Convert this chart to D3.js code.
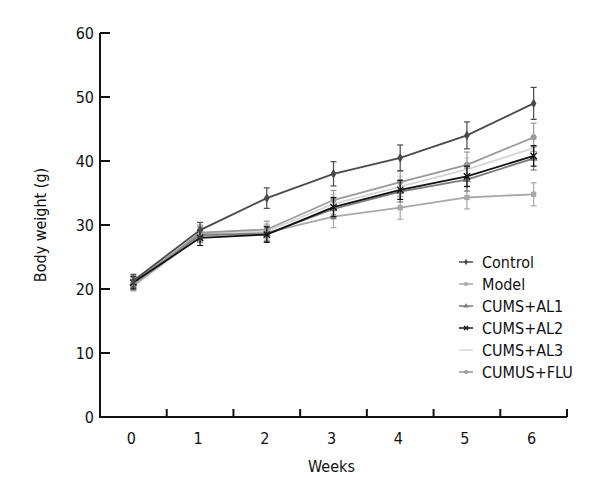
<!DOCTYPE html>
<html><head><meta charset="utf-8">
<script src="https://cdn.jsdelivr.net/npm/d3@7"></script>
<style>body{margin:0;background:#fff}svg{display:block}text{font-family:"DejaVu Sans Condensed","DejaVu Sans",sans-serif;font-stretch:condensed;fill:#111}</style>
</head><body><svg id="c" width="600" height="500"></svg>
<script>
const weeks = ["0","1","2","3","4","5","6"];
const seriesNames = ["Control","Model","CUMS+AL1","CUMS+AL2","CUMS+AL3","CUMUS+FLU"];
const control = [21.3, 29.2, 34.2, 38.0, 40.5, 44.0, 49.0];
const controlErr = [1.0, 1.2, 1.6, 1.9, 2.0, 2.1, 2.5];
const model = [20.5, 28.3, 28.8, 31.3, 32.7, 34.3, 34.8];
const modelErr = [0.8, 1.0, 1.2, 1.7, 1.8, 1.8, 1.8];
const al1 = [21.0, 28.5, 28.6, 32.5, 35.2, 37.1, 40.4];
const al1Err = [0.9, 1.2, 1.2, 1.5, 1.6, 1.8, 1.8];
const al2 = [21.0, 28.0, 28.5, 32.8, 35.5, 37.6, 40.8];
const al2Err = [1.0, 1.2, 1.2, 1.5, 1.5, 1.6, 1.6];
const al3 = [21.2, 28.6, 29.0, 33.3, 36.0, 38.7, 42.0];
const al3Err = [0.8, 1.0, 1.2, 1.5, 1.6, 1.8, 1.8];
const flu = [20.8, 28.8, 29.3, 33.9, 36.7, 39.4, 43.7];
const fluErr = [1.0, 1.2, 1.3, 1.5, 1.7, 2.0, 2.2];
const yTicks = [0,10,20,30,40,50,60];

const series = [
  {name: seriesNames[0], v: control, e: controlErr, color:"#4a4a4a", shape:"diamond"},
  {name: seriesNames[1], v: model, e: modelErr, color:"#a8a8a8", shape:"square"},
  {name: seriesNames[2], v: al1, e: al1Err, color:"#7a7a7a", shape:"triangle"},
  {name: seriesNames[3], v: al2, e: al2Err, color:"#111111", shape:"cross"},
  {name: seriesNames[4], v: al3, e: al3Err, color:"#d6d6d6", shape:"none"},
  {name: seriesNames[5], v: flu, e: fluErr, color:"#9a9a9a", shape:"circle"}
];

const svg = d3.select("#c");
const L = 100, R = 567, T = 33, B = 417;
const x = d3.scaleBand().domain(weeks).range([L, R]);
const y = d3.scaleLinear().domain([0, 60]).range([B, T]);
const cx = w => x(w) + x.bandwidth()/2;

// axes
const gx = svg.append("g").attr("transform", `translate(0,${B})`);
gx.append("line").attr("x1", L).attr("x2", R).attr("stroke", "#111").attr("stroke-width", 2);
const bounds = weeks.map(w => x(w) + x.bandwidth());
gx.selectAll("line.t").data(bounds).enter().append("line")
  .attr("x1", d => d).attr("x2", d => d).attr("y1", 0).attr("y2", -8)
  .attr("stroke", "#111").attr("stroke-width", 2);
gx.selectAll("text").data(weeks).enter().append("text")
  .attr("x", d => cx(d) - 2).attr("y", 27).attr("text-anchor", "middle")
  .attr("font-size", 16).text(d => d);

const gy = svg.append("g");
gy.append("line").attr("x1", L).attr("x2", L).attr("y1", T).attr("y2", B + 1).attr("stroke", "#111").attr("stroke-width", 2);
gy.selectAll("line.t").data(yTicks).enter().append("line")
  .attr("x1", L).attr("x2", L + 10).attr("y1", d => y(d)).attr("y2", d => y(d))
  .attr("stroke", "#111").attr("stroke-width", 2);
gy.selectAll("text").data(yTicks).enter().append("text")
  .attr("x", L - 6).attr("y", d => y(d) + 6).attr("text-anchor", "end")
  .attr("font-size", 16).text(d => d);

svg.append("text").attr("x", (L+R)/2 - 2).attr("y", 472).attr("text-anchor", "middle").attr("font-size", 16).text("Weeks");
svg.append("text").attr("transform", `translate(46,${(T+B)/2}) rotate(-90)`).attr("text-anchor", "middle").attr("font-size", 16).text("Body weight (g)");

const symMap = {diamond: d3.symbolDiamond, square: d3.symbolSquare, triangle: d3.symbolTriangle, cross: d3.symbolTimes, circle: d3.symbolCircle};
function marker(g, s, px, py, size) {
  if (s.shape === "none") return;
  const sym = d3.symbol().type(symMap[s.shape]).size(size);
  const p = g.append("path").attr("d", sym()).attr("transform", `translate(${px},${py})`);
  if (s.shape === "cross") p.attr("fill", "none").attr("stroke", s.color).attr("stroke-width", 1.3);
  else p.attr("fill", s.color);
}

const line = d3.line().x((d,i) => cx(weeks[i])).y(d => y(d));
const plot = svg.append("g");
const order = [4, 1, 2, 5, 3, 0];
order.forEach(k => {
  const s = series[k];
  const g = plot.append("g");
  s.v.forEach((v, i) => {
    const px = cx(weeks[i]);
    g.append("line").attr("x1", px).attr("x2", px).attr("y1", y(v + s.e[i])).attr("y2", y(v - s.e[i])).attr("stroke", s.color).attr("stroke-width", 1.2);
    [v + s.e[i], v - s.e[i]].forEach(q => g.append("line").attr("x1", px - 3).attr("x2", px + 3).attr("y1", y(q)).attr("y2", y(q)).attr("stroke", s.color).attr("stroke-width", 1.2));
  });
  g.append("path").datum(s.v).attr("d", line).attr("fill", "none").attr("stroke", s.color).attr("stroke-width", 1.8);
  s.v.forEach((v, i) => marker(g, s, cx(weeks[i]), y(v), 28));
});

// legend
const lg = svg.append("g");
series.forEach((s, i) => {
  const ly = 262 + i * 22;
  lg.append("line").attr("x1", 459).attr("x2", 473).attr("y1", ly).attr("y2", ly).attr("stroke", s.color).attr("stroke-width", 1.5);
  marker(lg, s, 466, ly, 12);
  lg.append("text").attr("x", 482).attr("y", ly + 6).attr("font-size", 16).text(s.name);
});
</script></body></html>
